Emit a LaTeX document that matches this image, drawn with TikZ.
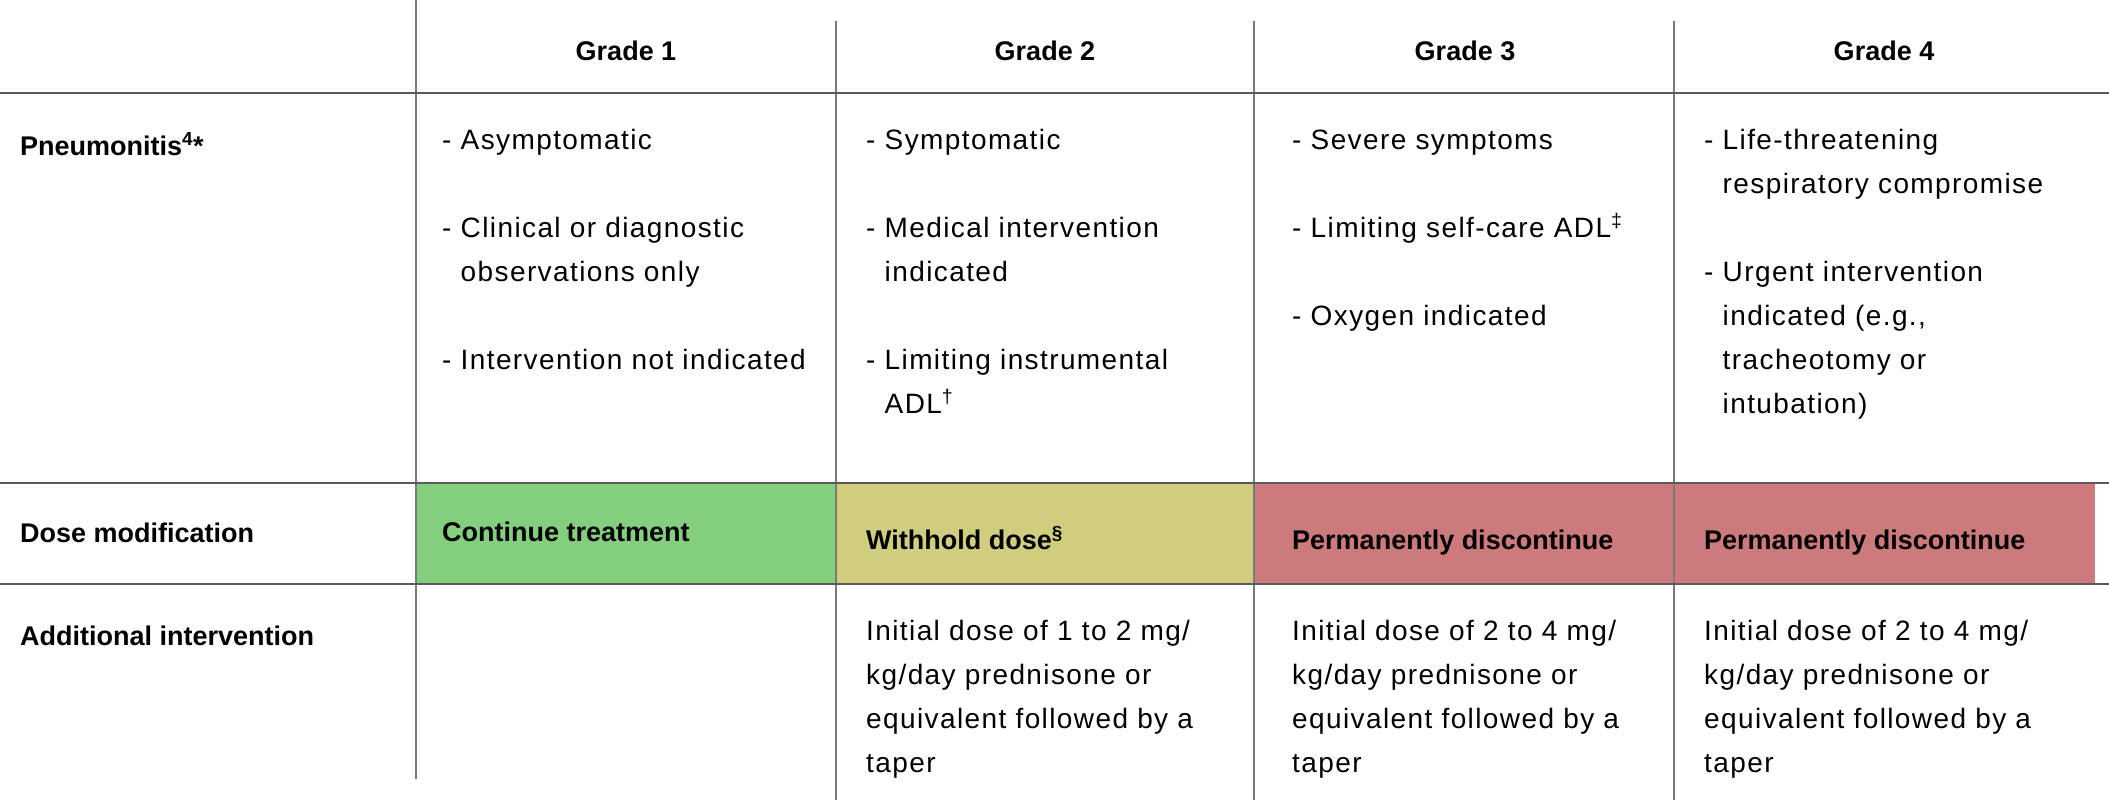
\documentclass[tikz,border=0pt]{standalone}
\usepackage{fontspec}
\setmainfont{Liberation Sans}
\newfontfamily\rfont{Liberation Sans}[LetterSpace=5]
\definecolor{gfill}{HTML}{84CF7D}
\definecolor{yfill}{HTML}{D0CE7E}
\definecolor{rfill}{HTML}{CD7A7C}
\definecolor{linedark}{HTML}{5E5858}
\definecolor{linegray}{HTML}{7A7A7A}
\begin{document}
\begin{tikzpicture}[x=1pt,y=-1pt,
  hd/.style={font=\fontsize{27}{44}\selectfont\bfseries, inner sep=0pt, anchor=base},
  lab/.style={font=\fontsize{27}{44}\selectfont\bfseries, inner sep=0pt, anchor=base west},
  txt/.style={font=\rfont\fontsize{28}{44}\selectfont, inner sep=0pt, anchor=base west},
  hline/.style={draw=linedark, line width=2.5pt},
  vline/.style={draw=linegray, line width=1.5pt}]
\useasboundingbox (0,0) rectangle (2109,800);
% coloured cells
\fill[gfill] (416,483) rectangle (836,584);
\fill[yfill] (836,483) rectangle (1254,584);
\fill[rfill] (1254,483) rectangle (1674,584);
\fill[rfill] (1674,483) rectangle (2095,584);
% grid
\draw[vline] (416,0) -- (416,779);
\draw[vline] (836,21) -- (836,800);
\draw[vline] (1254,21) -- (1254,800);
\draw[vline] (1674,21) -- (1674,800);
\draw[hline] (0,93) -- (2109,93);
\draw[hline] (0,483) -- (2109,483);
\draw[hline] (0,584) -- (2109,584);
% headers
\node[hd] (g1) at (626,61) {Grade 1};
\node[hd] (g2) at (1045,61) {Grade 2};
\node[hd] (g3) at (1465,61) {Grade 3};
\node[hd] (g4) at (1884,61) {Grade 4};
% row labels
\node[lab] (pn) at (20,155) {Pneumonitis\textsuperscript{4}*};
\node[lab] (dm) at (20,542) {Dose modification};
\node[lab] (ai) at (20,645) {Additional intervention};
% symptoms
\node[txt] (s1) at (442,149) {\begin{tabular}[t]{@{}l@{}}- Asymptomatic\\ \\ - Clinical or diagnostic\\ \phantom{- }observations only\\ \\ - Intervention not indicated\end{tabular}};
\node[txt] (s2) at (866,149) {\begin{tabular}[t]{@{}l@{}}- Symptomatic\\ \\ - Medical intervention\\ \phantom{- }indicated\\ \\ - Limiting instrumental\\ \phantom{- }ADL\textsuperscript{†}\end{tabular}};
\node[txt] (s3) at (1292,149) {\begin{tabular}[t]{@{}l@{}}- Severe symptoms\\ \\ - Limiting self-care ADL\textsuperscript{‡}\\ \\ - Oxygen indicated\end{tabular}};
\node[txt] (s4) at (1704,149) {\begin{tabular}[t]{@{}l@{}}- Life-threatening\\ \phantom{- }respiratory compromise\\ \\ - Urgent intervention\\ \phantom{- }indicated (e.g.,\\ \phantom{- }tracheotomy or\\ \phantom{- }intubation)\end{tabular}};
% dose modification
\node[lab] (d1) at (442,541) {Continue treatment};
\node[lab] (d2) at (866,549) {Withhold dose\textsuperscript{\rfont §}};
\node[lab] (d3) at (1292,549) {Permanently discontinue};
\node[lab] (d4) at (1704,549) {Permanently discontinue};
% additional intervention
\node[txt] (a2) at (866,640) {\begin{tabular}[t]{@{}l@{}}Initial dose of 1 to 2 mg/\\ kg/day prednisone or\\ equivalent followed by a\\ taper\end{tabular}};
\node[txt] (a3) at (1292,640) {\begin{tabular}[t]{@{}l@{}}Initial dose of 2 to 4 mg/\\ kg/day prednisone or\\ equivalent followed by a\\ taper\end{tabular}};
\node[txt] (a4) at (1704,640) {\begin{tabular}[t]{@{}l@{}}Initial dose of 2 to 4 mg/\\ kg/day prednisone or\\ equivalent followed by a\\ taper\end{tabular}};
\end{tikzpicture}
\end{document}
